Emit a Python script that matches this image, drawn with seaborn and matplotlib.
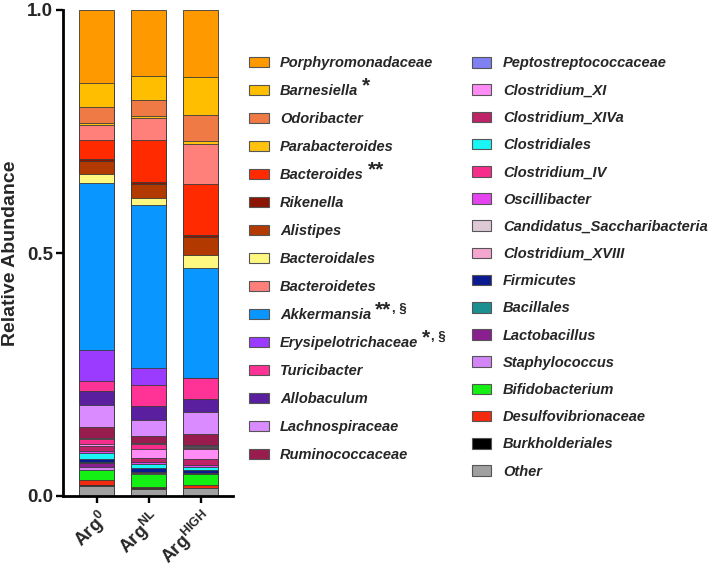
import matplotlib
matplotlib.use("Agg")
import matplotlib.pyplot as plt
from matplotlib.patches import Rectangle
import seaborn as sns
import pandas as pd

groups = ["Arg0", "ArgNL", "ArgHIGH"]
group_labels = [r"Arg$^{0}$", r"Arg$^{NL}$", r"Arg$^{HIGH}$"]

# stacking order: bottom -> top
taxa = [
    "Other", "Burkholderiales", "Desulfovibrionaceae", "Bifidobacterium",
    "Staphylococcus", "Lactobacillus", "Bacillales", "Firmicutes",
    "Clostridiales", "Oscillibacter", "Clostridium_XIVa", "Clostridium_XI",
    "Clostridium_IV", "Candidatus_Saccharibacteria", "Clostridium_XVIII",
    "Peptostreptococcaceae", "Ruminococcaceae", "Lachnospiraceae",
    "Allobaculum", "Turicibacter", "Erysipelotrichaceae", "Akkermansia",
    "Bacteroidales", "Alistipes", "Rikenella", "Bacteroides",
    "Bacteroidetes", "Parabacteroides", "Odoribacter", "Barnesiella",
    "Porphyromonadaceae",
]

arg0 = [0.021, 0.001, 0.010, 0.022, 0.006, 0.007, 0.002, 0.008,
        0.011, 0.005, 0.009, 0.005, 0.011, 0.001, 0.001, 0.000,
        0.021, 0.046, 0.029, 0.021, 0.063, 0.344, 0.019, 0.027,
        0.004, 0.038, 0.032, 0.003, 0.033, 0.049, 0.151]
argNL = [0.014, 0.003, 0.002, 0.027, 0.001, 0.002, 0.001, 0.008,
         0.008, 0.003, 0.010, 0.017, 0.012, 0.0005, 0.0005, 0.000,
         0.015, 0.033, 0.028, 0.043, 0.035, 0.336, 0.015, 0.027,
         0.005, 0.087, 0.045, 0.003, 0.034, 0.049, 0.136]
argHIGH = [0.016, 0.001, 0.006, 0.022, 0.0005, 0.001, 0.0005, 0.007,
           0.005, 0.004, 0.013, 0.021, 0.002, 0.002, 0.002, 0.001,
           0.024, 0.044, 0.028, 0.043, 0.000, 0.226, 0.027, 0.036,
           0.005, 0.105, 0.082, 0.006, 0.053, 0.080, 0.137]

colors = {
    "Porphyromonadaceae": "#FF9900", "Barnesiella": "#FFBF00",
    "Odoribacter": "#EF7A45", "Parabacteroides": "#FFC20E",
    "Bacteroides": "#FF2A00", "Rikenella": "#8B1500",
    "Alistipes": "#B23A00", "Bacteroidales": "#FFF880",
    "Bacteroidetes": "#FF7F7A", "Akkermansia": "#0A96FF",
    "Erysipelotrichaceae": "#9B3BFF", "Turicibacter": "#FF3396",
    "Allobaculum": "#5A1F9E", "Lachnospiraceae": "#DA8BFF",
    "Ruminococcaceae": "#991C4F",
    "Peptostreptococcaceae": "#7F80F2", "Clostridium_XI": "#FF8CF5",
    "Clostridium_XIVa": "#BF2367", "Clostridiales": "#1AF5F5",
    "Clostridium_IV": "#F72D8C", "Oscillibacter": "#E544F0",
    "Candidatus_Saccharibacteria": "#DDC9D6", "Clostridium_XVIII": "#F4A6CF",
    "Firmicutes": "#0C1A8F", "Bacillales": "#1A9090",
    "Lactobacillus": "#8A2090", "Staphylococcus": "#D285F5",
    "Bifidobacterium": "#14F014", "Desulfovibrionaceae": "#F42A10",
    "Burkholderiales": "#000000", "Other": "#A0A0A0",
}

legend_col1 = ["Porphyromonadaceae", "Barnesiella", "Odoribacter",
               "Parabacteroides", "Bacteroides", "Rikenella", "Alistipes",
               "Bacteroidales", "Bacteroidetes", "Akkermansia",
               "Erysipelotrichaceae", "Turicibacter", "Allobaculum",
               "Lachnospiraceae", "Ruminococcaceae"]
legend_col2 = ["Peptostreptococcaceae", "Clostridium_XI", "Clostridium_XIVa",
               "Clostridiales", "Clostridium_IV", "Oscillibacter",
               "Candidatus_Saccharibacteria", "Clostridium_XVIII",
               "Firmicutes", "Bacillales", "Lactobacillus", "Staphylococcus",
               "Bifidobacterium", "Desulfovibrionaceae", "Burkholderiales",
               "Other"]
# significance marks: (asterisks, extra superscript)
marks = {"Barnesiella": ("*", ""), "Bacteroides": ("**", ""),
         "Akkermansia": ("**", ", §"), "Erysipelotrichaceae": ("*", ", §")}

sns.set_style("white")
plt.rcParams["font.family"] = ["Liberation Sans", "DejaVu Sans"]
plt.rcParams["font.weight"] = "bold"
plt.rcParams["mathtext.fontset"] = "custom"
plt.rcParams["mathtext.rm"] = "Liberation Sans:bold"
plt.rcParams["mathtext.it"] = "Liberation Sans:bold:italic"
plt.rcParams["mathtext.bf"] = "Liberation Sans:bold"
plt.rcParams["mathtext.default"] = "rm"

W, H = 709, 570
fig = plt.figure(figsize=(W / 100, H / 100), dpi=100)
ax = fig.add_axes([63 / W, 1 - 496 / H, (233 - 63) / W, (496 - 10) / H])

df = pd.DataFrame({"taxon": taxa, "Arg0": arg0, "ArgNL": argNL, "ArgHIGH": argHIGH})
cum = df[groups].cumsum()

# draw cumulative bars from the top layer down so lower layers overlap
for i in range(len(taxa) - 1, -1, -1):
    d = pd.DataFrame({"group": groups, "top": cum.iloc[i].values})
    sns.barplot(data=d, x="group", y="top", order=groups, color=colors[taxa[i]],
                saturation=1, width=0.67, edgecolor="#3a3a3a", linewidth=0.6,
                ax=ax, errorbar=None)

ax.set_xlim(-0.65, 2.62)
ax.set_ylim(0, 1.0)
ax.set_yticks([0.0, 0.5, 1.0])
ax.set_yticklabels(["0.0", "0.5", "1.0"], fontsize=13.5, fontweight="bold")
ax.set_xticks([0, 1, 2])
ax.set_xticklabels(group_labels, rotation=45, ha="right", rotation_mode="anchor",
                   fontsize=13)
ax.set_xlabel("")
ax.set_ylabel("Relative Abundance", fontsize=14, fontweight="bold", labelpad=6)
for s in ["top", "right"]:
    ax.spines[s].set_visible(False)
for s in ["left", "bottom"]:
    ax.spines[s].set_linewidth(2.0)
    ax.spines[s].set_color("black")
ax.tick_params(axis="both", direction="out", length=5, width=1.7, color="black",
               left=True, bottom=True, pad=2)
ax.tick_params(axis="x", pad=3)
for b in ax.patches:
    b.set_clip_on(False)

# legend (two columns)
label_texts = {}
def draw_col(names, x_patch, x_text, y0, dy):
    for k, name in enumerate(names):
        yc = y0 + dy * k
        fig.add_artist(Rectangle((x_patch / W, 1 - (yc + 5.3) / H), 19.5 / W, 10.6 / H,
                                 transform=fig.transFigure, facecolor=colors[name],
                                 edgecolor="#555555", linewidth=0.8))
        label_texts[name] = (fig.text(x_text / W, 1 - (yc + 5) / H, name,
                                      fontsize=10.5, fontweight="bold",
                                      fontstyle="italic", va="baseline", ha="left"), yc)

draw_col(legend_col1, 249, 280, 62, 28.0)
draw_col(legend_col2, 472, 503, 62.5, 27.2)

# significance marks placed after the italic labels
renderer = fig.canvas.get_renderer()
for name, (stars, extra) in marks.items():
    t, yc = label_texts[name]
    bb = t.get_window_extent(renderer=renderer)
    st = fig.text((bb.x1 + 4) / W, 1 - (yc + 1) / H, stars, fontsize=15,
                  va="baseline", ha="left")
    if extra:
        sb = st.get_window_extent(renderer=renderer)
        fig.text((sb.x1 + 0.5) / W, 1 - (yc - 2) / H, extra, fontsize=9.5,
                 va="baseline", ha="left")

fig.savefig("out.png", dpi=100)
